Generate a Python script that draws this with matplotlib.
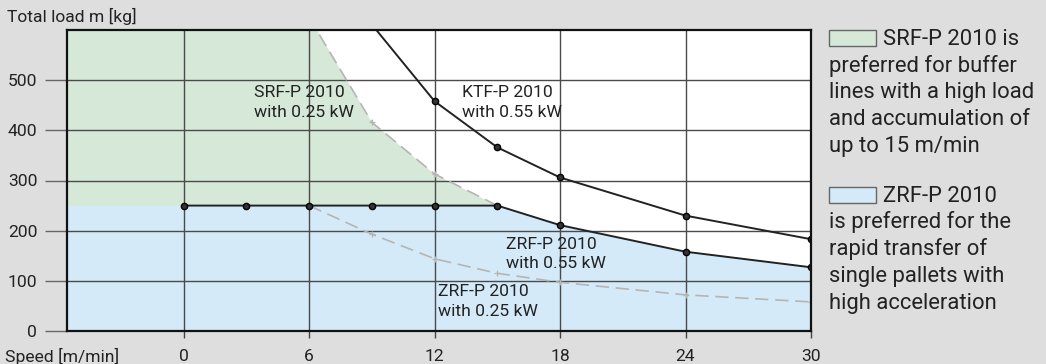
import matplotlib
matplotlib.use("Agg")
import matplotlib.pyplot as plt
from matplotlib.patches import Rectangle

plt.rcParams['font.family'] = ['Roboto', 'DejaVu Sans']

# data
speed_ticks = [0, 6, 12, 18, 24, 30]
load_ticks = [0, 100, 200, 300, 400, 500]

zrf055_x = [0, 3, 6, 9, 12, 15, 18, 24, 30]
zrf055_y = [250, 250, 250, 250, 250, 250, 211, 158, 127]

ktf055_x = [9, 12, 15, 18, 24, 30]
ktf055_y = [611, 458, 366, 306, 230, 183]

srf025_x = [6, 9, 12, 15]
srf025_y = [625, 416, 313, 250]

zrf025_x = [6, 9, 12, 15, 18, 24, 30]
zrf025_y = [250, 193, 144, 115, 97, 72, 58]

srf_text = ["SRF-P 2010 is", "preferred for buffer", "lines with a high load",
            "and accumulation of", "up to 15 m/min"]
zrf_text = ["ZRF-P 2010", "is preferred for the", "rapid transfer of",
            "single pallets with", "high acceleration"]

bg = '#dedede'
green = '#d6e8d8'
blue = '#d4eaf8'
dark = '#222222'
gridc = '#4a4a4a'
dashc = '#b5b5b5'

xmin, xmax = -5.6, 30
ymin, ymax = 0, 600

fig = plt.figure(figsize=(10.46, 3.64), dpi=100, facecolor=bg)
ax = fig.add_axes([66.5 / 1046, 33 / 364, (811 - 66.5) / 1046, (331 - 30) / 364])
ax.set_xlim(xmin, xmax)
ax.set_ylim(ymin, ymax)
ax.set_facecolor('white')

# filled areas
ax.fill_between([xmin] + zrf055_x, 0, [zrf055_y[0]] + zrf055_y, color=blue, lw=0, zorder=1)
ax.fill_between([xmin] + srf025_x, 250, [srf025_y[0]] + srf025_y, color=green, lw=0, zorder=1)

# grid
ax.set_xticks(speed_ticks)
ax.set_yticks(load_ticks)
ax.grid(True, color=gridc, lw=1.0, zorder=2)
ax.set_axisbelow(False)
for gl in ax.get_xgridlines() + ax.get_ygridlines():
    gl.set_zorder(2)

# curves
ax.plot(srf025_x, srf025_y, color=dashc, lw=1.2, ls=(0, (8, 4)), marker='+', ms=5, mew=0.9, zorder=3)
ax.plot(zrf025_x, zrf025_y, color=dashc, lw=1.2, ls=(0, (8, 4)), marker='+', ms=5, mew=0.9, zorder=3)
ax.plot(ktf055_x, ktf055_y, color=dark, lw=1.4, marker='o', ms=4.5, mfc='#333333', mec='black', zorder=4)
ax.plot(zrf055_x, zrf055_y, color=dark, lw=1.4, marker='o', ms=4.5, mfc='#333333', mec='black', zorder=4)

# labels in the chart
fs = 12.6
ls = 1.4
ax.text(3.36, 490, "SRF-P 2010\nwith 0.25 kW", fontsize=fs, color=dark, va='top', ha='left', linespacing=ls, zorder=5)
ax.text(13.3, 490, "KTF-P 2010\nwith 0.55 kW", fontsize=fs, color=dark, va='top', ha='left', linespacing=ls, zorder=5)
ax.text(15.4, 188, "ZRF-P 2010\nwith 0.55 kW", fontsize=fs, color=dark, va='top', ha='left', linespacing=ls, zorder=5)
ax.text(12.18, 93, "ZRF-P 2010\nwith 0.25 kW", fontsize=fs, color=dark, va='top', ha='left', linespacing=ls, zorder=5)

# spines and ticks
for s in ax.spines.values():
    s.set_color('#111111')
    s.set_linewidth(1.6)
    s.set_zorder(6)
ax.tick_params(axis='y', direction='out', length=16, width=1, color='#666666',
               labelsize=fs, labelcolor=dark, pad=5)
ax.tick_params(axis='x', direction='out', length=5, width=1, color='#444444',
               labelsize=fs, labelcolor=dark, pad=8)

fig.text(7 / 1046, 1 - 21.7 / 364, "Total load m [kg]", fontsize=fs, color=dark, va='baseline', ha='left')
fig.text(5 / 1046, 1 - 361.7 / 364, "Speed [m/min]", fontsize=fs, color=dark, va='baseline', ha='left')

# right-hand notes
fs2 = 15.8
W, H = 1046, 364
fig.patches.append(Rectangle((829.3 / W, 1 - 46 / H), 46.7 / W, 16 / H, transform=fig.transFigure,
                             facecolor=green, edgecolor='#666666', lw=1))
fig.patches.append(Rectangle((829.3 / W, 1 - 202.7 / H), 46.7 / W, 16 / H, transform=fig.transFigure,
                             facecolor=blue, edgecolor='#666666', lw=1))
step = 26.7
for i, line in enumerate(srf_text):
    x0 = 882.7 if i == 0 else 829.3
    fig.text(x0 / W, 1 - (45 + i * step) / H, line, fontsize=fs2, color=dark, va='baseline', ha='left')
for i, line in enumerate(zrf_text):
    x0 = 882.7 if i == 0 else 829.3
    fig.text(x0 / W, 1 - (201.7 + i * step) / H, line, fontsize=fs2, color=dark, va='baseline', ha='left')

fig.savefig('out.png', dpi=100, facecolor=bg)
